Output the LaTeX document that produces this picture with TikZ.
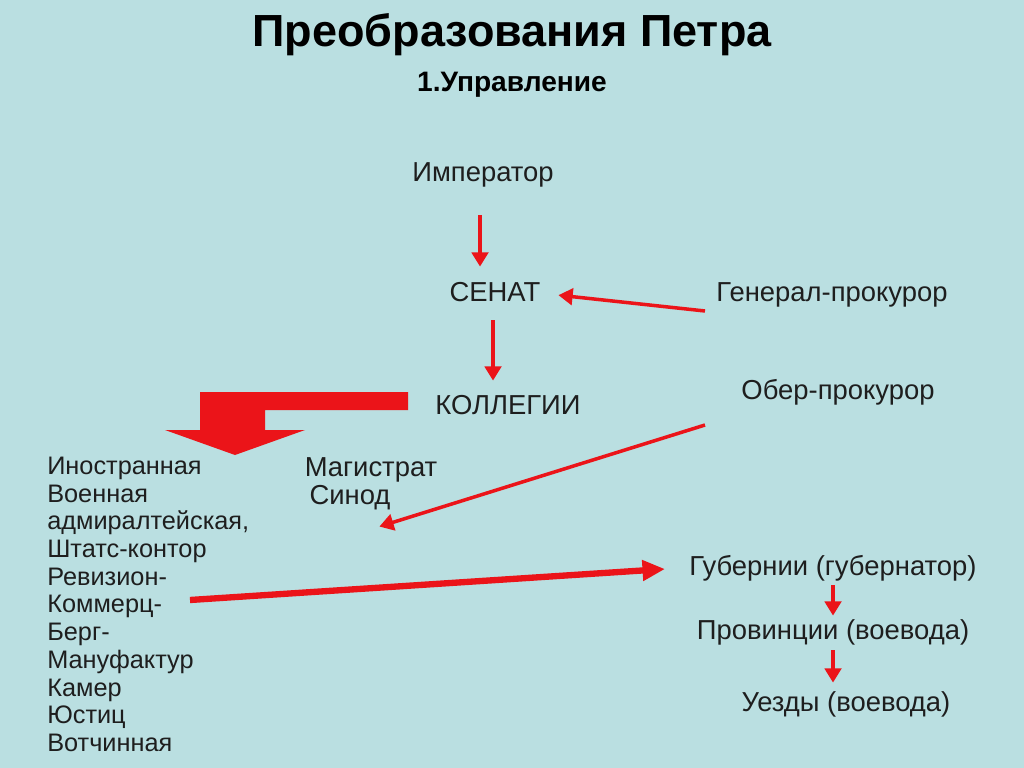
\documentclass[tikz,border=0pt]{standalone}
\usepackage{fontspec}
\setmainfont{Liberation Sans}
\usetikzlibrary{positioning, arrows.meta}
\definecolor{BgColor}{RGB}{186,223,225}
\definecolor{ArrowRed}{RGB}{235,20,25}
\definecolor{TextGray}{RGB}{30,30,30}

\begin{document}
\begin{tikzpicture}[x=0.025cm, y=-0.025cm, >=Triangle,
  lbl/.style={font=\fontsize{19.5}{23}\selectfont, text=TextGray, inner sep=1pt},
  item/.style={font=\fontsize{18}{21}\selectfont, text=TextGray, anchor=west, inner sep=0pt,
    text height=1.6ex, text depth=0.4ex},
  redarrow/.style={draw=ArrowRed, line width=2.5pt, ->, shorten >=1pt}]

\fill[BgColor] (0,0) rectangle (1024,768);

\node[font=\fontsize{32}{38}\selectfont\bfseries] (title) at (512,35) {Преобразования Петра};
\node[font=\fontsize{20}{24}\selectfont\bfseries] (sub) at (512,85) {1.Управление};

\node[lbl] (emp) at (483,175) {Император};
\node[lbl] (senat) at (495,292) {СЕНАТ};
\node[lbl] (koll) at (508,405) {КОЛЛЕГИИ};
\node[lbl] (gen) at (832,295) {Генерал-прокурор};
\node[lbl] (ober) at (838,392) {Обер-прокурор};

\coordinate (e1) at (480,215);
\coordinate (e2) at (480,268);
\coordinate (s1) at (493,320);
\coordinate (s2) at (493,382);
\coordinate (g1) at (705,311);
\coordinate (g2) at (557,295);
\draw[redarrow] (e1) -- (e2);
\draw[redarrow] (s1) -- (s2);
\draw[redarrow] (g1) -- (g2);

% block arrow
\fill[ArrowRed] (408,392) -- (408,410) -- (265,410) -- (265,430) -- (305,430)
  -- (235,455) -- (165,430) -- (200,430) -- (200,392) -- cycle;

% list of colleges
\foreach \t [count=\i from 0] in {Иностранная, Военная, {адмиралтейская,}, Штатс-контор,
  Ревизион-, Коммерц-, Берг-, Мануфактур, Камер, Юстиц, Вотчинная}
  \node[item] (c\i) at (47,{470+27.7*\i}) {\t};

\node[lbl] (mag) at (371,470) {Магистрат};
\node[lbl] (sin) at (350,498) {Синод};

\coordinate (o1) at (705,425);
\coordinate (o2) at (378,527);
\draw[redarrow] (o1) -- (o2);

\coordinate (k1) at (190,600);
\coordinate (k2) at (665,569);
\draw[draw=ArrowRed, line width=4.5pt, -{Triangle[length=16pt,width=14pt]}] (k1) -- (k2);

\node[lbl] (gub) at (833,568) {Губернии (губернатор)};
\node[lbl] (prov) at (833,632) {Провинции (воевода)};
\node[lbl] (uezd) at (846,704) {Уезды (воевода)};

\coordinate (p1) at (833,585);
\coordinate (p2) at (833,617);
\coordinate (u1) at (833,650);
\coordinate (u2) at (833,684);
\draw[redarrow] (p1) -- (p2);
\draw[redarrow] (u1) -- (u2);
\end{tikzpicture}
\end{document}
